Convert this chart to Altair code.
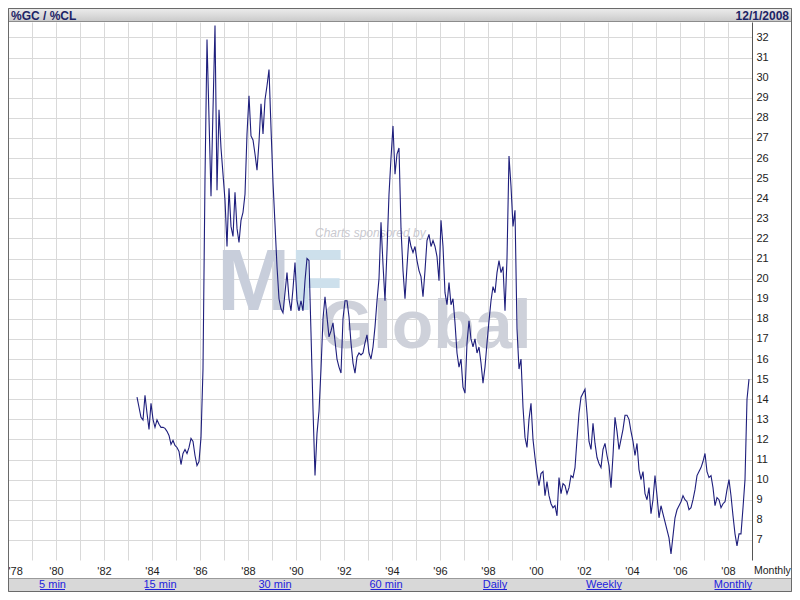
import altair as alt
import pandas as pd

# ---------------- text ----------------
title_left = "%GC / %CL"
title_right = "12/1/2008"
freq_label = "Monthly"
sponsor_text = "Charts sponsored by"
link_labels = ["5 min", "15 min", "30 min", "60 min", "Daily", "Weekly", "Monthly"]

# ---------------- data: gold / crude ratio, monthly ----------------
first_month_1983 = 5  # series starts in June 1983 (0-based month index)
v1983 = [14.1, 13.6, 13.1, 12.97, 14.2, 13.3, 12.5]
v1984 = [13.8, 13.0, 12.6, 12.97, 12.75, 12.6, 12.6, 12.55, 12.4, 12.2, 11.75, 11.95]
v1985 = [11.7, 11.6, 11.4, 10.75, 11.3, 11.5, 11.3, 11.6, 12.05, 11.9, 11.2, 10.7]
v1986 = [10.9, 12.1, 15.5, 25.0, 31.9, 28.0, 24.1, 28.4, 32.6, 24.4, 28.4, 26.5]
v1987 = [25.2, 23.9, 21.6, 24.5, 22.6, 22.1, 24.3, 22.5, 21.8, 22.9, 23.3, 24.2]
v1988 = [27.2, 29.1, 27.1, 26.9, 26.2, 25.4, 26.8, 28.7, 27.2, 28.9, 29.6, 30.4]
v1989 = [27.5, 24.8, 22.7, 20.6, 19.0, 18.5, 18.3, 19.3, 20.3, 19.0, 18.4, 19.5]
v1990 = [20.8, 18.9, 18.4, 18.9, 18.4, 19.9, 21.0, 20.9, 17.3, 13.5, 10.2, 12.3]
v1991 = [13.4, 15.5, 18.0, 19.1, 18.1, 17.1, 17.4, 17.8, 16.9, 16.0, 15.6, 15.3]
v1992 = [18.0, 18.9, 18.9, 18.1, 16.8, 15.8, 15.3, 16.1, 16.3, 16.2, 16.3, 16.8]
v1993 = [17.2, 16.3, 16.0, 16.6, 17.6, 18.9, 20.0, 22.8, 20.7, 18.9, 21.4, 24.2]
v1994 = [26.0, 27.6, 25.2, 26.2, 26.5, 22.5, 20.4, 19.0, 20.6, 22.1, 21.6, 21.3]
v1995 = [21.6, 20.9, 20.4, 20.1, 19.1, 20.4, 21.9, 22.2, 21.6, 21.9, 21.6, 21.1]
v1996 = [19.9, 22.9, 21.6, 19.3, 18.7, 19.8, 18.7, 19.0, 17.8, 16.3, 15.6, 16.0]
v1997 = [14.6, 14.3, 16.8, 17.9, 17.0, 16.6, 17.0, 16.3, 16.6, 15.8, 14.8, 15.6]
v1998 = [16.8, 17.9, 18.9, 19.6, 19.3, 20.3, 20.9, 20.3, 20.6, 18.4, 21.0, 26.1]
v1999 = [24.6, 22.6, 23.4, 17.5, 15.5, 16.0, 13.6, 12.1, 11.6, 13.0, 13.8, 12.0]
v2000 = [11.1, 10.3, 9.7, 10.3, 10.4, 9.2, 9.9, 9.2, 8.8, 8.6, 8.7, 8.2]
v2001 = [10.1, 9.3, 9.8, 9.7, 9.3, 9.6, 10.2, 10.1, 10.6, 12.0, 13.3, 14.1]
v2002 = [14.3, 14.5, 13.3, 11.9, 11.5, 12.8, 11.8, 11.1, 10.8, 10.6, 11.5, 11.8]
v2003 = [11.2, 10.7, 9.6, 11.2, 13.1, 12.4, 11.5, 12.0, 12.5, 13.2, 13.2, 13.0]
v2004 = [12.4, 11.9, 11.2, 11.8, 10.5, 10.0, 10.4, 9.3, 9.0, 9.6, 8.3, 9.0]
v2005 = [10.2, 9.2, 8.1, 8.7, 8.3, 7.9, 7.5, 7.1, 6.3, 7.2, 8.1, 8.5]
v2006 = [8.7, 8.9, 9.2, 9.0, 8.9, 8.5, 8.6, 9.0, 9.5, 10.2, 10.4, 10.6]
v2007 = [10.9, 11.3, 10.4, 10.1, 10.2, 9.6, 8.7, 9.1, 9.0, 8.6, 8.8, 8.9]
v2008 = [9.5, 10.0, 9.2, 8.2, 7.3, 6.7, 7.3, 7.3, 8.6, 10.0, 14.0, 15.0]

years = list(range(1983, 2009))
series = [v1983, v1984, v1985, v1986, v1987, v1988, v1989, v1990, v1991, v1992,
          v1993, v1994, v1995, v1996, v1997, v1998, v1999, v2000, v2001, v2002,
          v2003, v2004, v2005, v2006, v2007, v2008]

grid_years = list(range(1978, 2009))
y_ticks = list(range(7, 33))

rows = []
for yr, vals in zip(years, series):
    m0 = first_month_1983 if yr == 1983 else 0
    for i, val in enumerate(vals):
        rows.append({"t": yr + (m0 + i - 0.5) / 12.0, "v": val})
df = pd.DataFrame(rows)

# ---------------- layout (pixels, relative to plot origin) ----------------
W, H = 744, 538
PAD = {"left": 0, "top": 14, "right": 40, "bottom": 32}
FULL_W = W + PAD["left"] + PAD["right"]
link_centers = [44.5, 152, 267, 378, 487, 596, 725]
link_widths = [25, 30, 31, 31, 24, 35, 37]

FONT = "Liberation Sans, Arial, sans-serif"
NARROW = "Liberation Sans Narrow, Liberation Sans, Arial, sans-serif"
NAVY = "#1c2466"
LINE = "#1e1e7c"

one = pd.DataFrame({"a": [0]})

x_scale = alt.Scale(domain=[1978, 2009], nice=False, zero=False)
y_scale = alt.Scale(domain=[6.0, 32.77], nice=False, zero=False)

line = alt.Chart(df).mark_line(color=LINE, strokeWidth=1.1, clip=True).encode(
    x=alt.X("t:Q", scale=x_scale, axis=alt.Axis(
        values=grid_years, grid=True, ticks=False, domain=False, title=None,
        labelExpr="datum.value % 2 == 0 ? \"'\" + substring(toString(datum.value), 2, 4) : ''",
        labelOverlap=False, labelFlush=True, labelPadding=5, labelFontSize=11)),
    y=alt.Y("v:Q", scale=y_scale, axis=alt.Axis(
        orient="right", values=y_ticks, grid=True, ticks=False, domain=True,
        domainColor="#555555", title=None, labelPadding=4, labelFontSize=11, format="d")),
)

# watermark
wm_sponsor = alt.Chart(one).mark_text(
    text=sponsor_text, font=FONT, fontSize=12, fontStyle="italic", color="#c9c9cf",
    align="left", baseline="middle").encode(x=alt.value(307), y=alt.value(211))
wm_m = alt.Chart(one).mark_text(
    text="M", font=FONT, fontSize=88, fontWeight="bold", color="#c8cedb",
    align="left", baseline="alphabetic").encode(x=alt.value(209), y=alt.value(288))
wm_f = alt.Chart(one).mark_text(
    text="F", font=FONT, fontSize=88, fontWeight="bold", color="#cde0ec",
    align="left", baseline="alphabetic").encode(x=alt.value(282), y=alt.value(288))
wm_global = alt.Chart(one).mark_text(
    text="Global", font=FONT, fontSize=68, fontWeight="bold", color="#ced1da",
    align="left", baseline="alphabetic").encode(x=alt.value(312), y=alt.value(326))

# header bar
header = alt.Chart(one).mark_rect(
    fill=alt.LinearGradient(gradient="linear",
                            stops=[alt.GradientStop(color="#ececec", offset=0),
                                   alt.GradientStop(color="#cacaca", offset=1)],
                            x1=0, x2=0, y1=0, y2=1),
    stroke="#8c8c8c", strokeWidth=1).encode(
    x=alt.value(0.5), x2=alt.value(FULL_W - 0.5), y=alt.value(-13.5), y2=alt.value(-0.5))
head_l = alt.Chart(one).mark_text(
    text=title_left, font=NARROW, fontSize=12, fontWeight="bold", color=NAVY,
    align="left", baseline="middle").encode(x=alt.value(3), y=alt.value(-6.5))
head_r = alt.Chart(one).mark_text(
    text=title_right, font=NARROW, fontSize=12, fontWeight="bold", color=NAVY,
    align="right", baseline="middle").encode(x=alt.value(FULL_W - 3), y=alt.value(-6.5))

# frequency label at bottom right
freq = alt.Chart(one).mark_text(
    text=freq_label, font=FONT, fontSize=10.5, color="#222222",
    align="left", baseline="middle").encode(x=alt.value(746), y=alt.value(549))

# link bar
link_bar = alt.Chart(one).mark_rect(color="#d8d8d8", stroke="#9a9a9a", strokeWidth=1).encode(
    x=alt.value(0.5), x2=alt.value(FULL_W - 0.5), y=alt.value(556.5), y2=alt.value(569.5))
links_df = pd.DataFrame({
    "label": link_labels,
    "cx": link_centers,
    "x1": [c - w / 2 for c, w in zip(link_centers, link_widths)],
    "x2": [c + w / 2 for c, w in zip(link_centers, link_widths)],
})
link_text = alt.Chart(links_df).mark_text(
    font=FONT, fontSize=11, color="#2222dd", align="center", baseline="middle").encode(
    x=alt.X("cx:Q", scale=None), y=alt.value(562.5), text="label:N")
link_ul = alt.Chart(links_df).mark_rule(color="#2222dd", strokeWidth=1).encode(
    x=alt.X("x1:Q", scale=None), x2="x2:Q", y=alt.value(567.5))

# outer frame
frame = alt.Chart(one).mark_rect(filled=False, stroke="#6a6a6a", strokeWidth=1).encode(
    x=alt.value(0.5), x2=alt.value(FULL_W - 0.5), y=alt.value(-13.5), y2=alt.value(569.5))

chart = alt.layer(
    wm_sponsor, wm_m, wm_f, wm_global, line,
    header, head_l, head_r, freq, link_bar, link_text, link_ul, frame,
).properties(
    width=W, height=H,
    autosize=alt.AutoSizeParams(type="none"),
    padding=PAD,
    background="white",
).configure_view(stroke=None).configure_axis(
    gridColor="#d9d9d9", gridWidth=1, labelFont=FONT, labelColor="#222222",
)

chart.save("out.html", embed_options={"renderer": "svg", "actions": False})
